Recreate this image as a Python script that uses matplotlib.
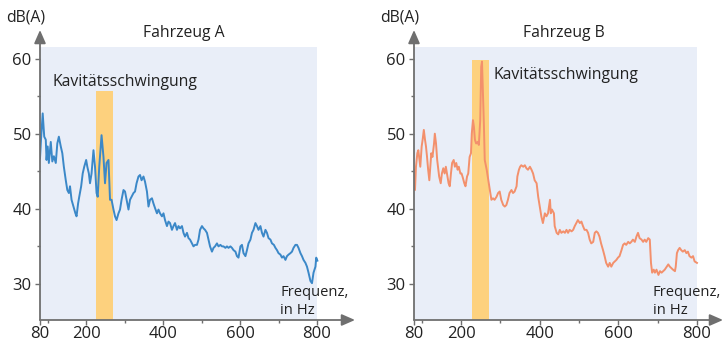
import matplotlib
matplotlib.use("Agg")
import matplotlib.pyplot as plt
from matplotlib.patches import Rectangle

plt.rcParams['font.family'] = ['Open Sans', 'DejaVu Sans']

# ---- data ----
freq_a = [80, 82.6, 87, 91, 95, 97, 100, 103, 108, 112, 116, 121, 125, 129, 134, 138, 142, 147, 151, 155,
          158, 162, 167, 172, 175, 179, 182, 187, 191, 195, 200, 203, 207, 210, 214, 219, 223, 227, 230, 234,
          240, 245, 249, 253, 258, 262, 266, 271, 275, 279, 284, 288, 292, 297, 301, 305, 310, 314, 318, 323,
          327, 331, 336, 340, 344, 349, 353, 358, 362, 366, 371, 375, 379, 384, 388, 392, 397, 401, 405, 410,
          414, 418, 423, 427, 431, 436, 440, 444, 449, 453, 457, 462, 466, 470, 475, 479, 483, 488, 492, 496,
          501, 505, 509, 514, 518, 522, 527, 531, 535, 540, 544, 549, 553, 557, 562, 566, 570, 575, 579, 583,
          588, 592, 596, 601, 605, 609, 614, 618, 622, 627, 631, 635, 640, 644, 648, 653, 657, 661, 666, 670,
          674, 679, 683, 688, 692, 696, 700, 705, 709, 713, 718, 722, 726, 731, 735, 739, 744, 748, 752, 757,
          761, 765, 770, 774, 778, 783, 787, 791, 796, 798, 801]
db_a = [46.7, 49.2, 52.7, 49.6, 49.2, 46.5, 48.3, 46.1, 48.9, 46.3, 47.0, 46.1, 48.7, 49.6, 48.3, 47.4, 45.6, 43.8, 42.5, 42.1,
        43.0, 41.2, 40.3, 39.4, 39.0, 40.7, 41.6, 43.0, 44.7, 45.6, 46.5, 45.6, 44.7, 43.4, 44.7, 47.8, 45.6, 42.1, 41.6, 45.6,
        49.8, 46.9, 43.4, 46.1, 46.5, 41.2, 41.2, 39.9, 39.0, 38.5, 39.4, 39.9, 41.2, 42.5, 42.3, 41.2, 39.9, 41.2, 41.6, 42.1,
        42.3, 43.4, 44.3, 44.5, 43.8, 44.3, 43.6, 42.3, 40.3, 41.2, 41.4, 40.7, 40.1, 39.4, 39.9, 39.4, 39.0, 39.4, 38.5, 37.7,
        38.3, 38.1, 37.2, 37.7, 38.1, 37.2, 37.7, 37.4, 37.7, 36.8, 36.3, 36.8, 36.1, 35.9, 35.4, 35.0, 35.2, 35.2, 35.9, 37.2,
        37.7, 37.4, 37.2, 36.8, 35.9, 35.0, 34.3, 34.8, 35.0, 35.4, 35.0, 35.2, 35.0, 35.0, 34.8, 35.0, 34.8, 35.0, 34.8, 34.5,
        34.3, 33.7, 33.5, 35.0, 35.2, 34.1, 33.7, 34.5, 35.4, 35.9, 36.8, 37.2, 38.1, 37.7, 37.2, 37.7, 36.8, 36.3, 37.2, 36.8,
        36.1, 35.9, 35.4, 35.2, 34.8, 34.5, 34.1, 33.9, 33.5, 33.7, 33.2, 33.7, 33.9, 34.1, 34.3, 34.8, 35.2, 35.2, 34.8, 34.1,
        33.7, 33.2, 32.8, 32.3, 31.5, 30.4, 30.1, 31.5, 32.3, 33.5, 33.1]

freq_b = [80, 82.5, 85, 88.5, 91, 94, 96, 99.5, 102, 105, 108, 110.5, 113, 116, 119, 121.5, 124, 127, 131, 133,
          136, 139, 142, 144, 148, 151, 154.5, 158, 161, 165, 168, 171, 174, 177, 181, 184, 187.5, 191, 194, 198,
          201, 204.5, 208, 211, 215, 218, 221.5, 225, 227, 230, 232.5, 235, 238, 242, 245, 248.5, 251, 253, 255, 258,
          260, 265, 269, 273, 277, 281, 285, 290, 294, 298, 302, 307, 311, 315, 319, 323, 328, 332, 336, 341,
          343, 347, 350, 353, 358, 362, 366, 370, 375, 379, 383, 387, 392, 396, 400, 404, 408, 413, 417, 421,
          426, 428, 431, 436, 438, 443, 447, 451, 455, 460, 464, 468, 472, 476, 481, 485, 489, 493, 497, 502,
          506, 510, 514, 519, 523, 527, 531, 536, 540, 544, 548, 552, 556, 561, 565, 569, 574, 578, 582, 587,
          591, 595, 599, 603, 608, 612, 616, 620, 625, 629, 633, 637, 642, 646, 650, 654, 659, 663, 667, 671,
          676, 680, 683, 686, 690, 693, 697, 702, 706, 710, 714, 718, 723, 727, 731, 735, 739, 744, 746, 749,
          752, 756, 760, 764, 769, 773, 777, 781, 786, 790, 794, 800]
db_b = [45.2, 42.5, 45.6, 47.4, 47.8, 46.5, 45.6, 48.3, 49.2, 50.5, 49.2, 48.3, 47.0, 45.2, 43.8, 45.6, 47.4, 46.9, 48.7, 50.0,
        48.7, 46.5, 45.2, 44.3, 43.4, 44.7, 45.4, 44.7, 45.6, 44.3, 43.4, 43.0, 44.7, 46.1, 46.5, 45.6, 46.1, 45.2, 45.6, 44.7,
        44.7, 44.1, 43.4, 43.0, 44.3, 44.7, 46.9, 47.4, 50.0, 51.8, 50.9, 49.2, 48.7, 48.9, 48.5, 51.8, 58.9, 59.6, 56.2, 50.9,
        46.5, 45.2, 43.8, 42.5, 41.2, 41.4, 41.2, 41.6, 42.1, 42.3, 41.2, 40.5, 40.3, 40.5, 41.2, 42.1, 42.5, 42.1, 42.3, 43.0,
        44.3, 45.2, 45.6, 45.8, 45.6, 45.8, 45.4, 45.2, 45.6, 45.2, 44.7, 43.8, 43.4, 41.6, 40.3, 39.0, 38.1, 39.4, 39.0, 39.4,
        41.2, 39.4, 39.9, 39.4, 37.7, 36.8, 36.6, 37.2, 36.8, 37.0, 36.8, 37.2, 36.8, 37.2, 37.0, 37.2, 37.7, 38.1, 38.5, 38.1,
        38.3, 37.7, 37.2, 37.2, 36.8, 35.9, 35.4, 35.6, 36.8, 37.0, 36.8, 36.3, 35.4, 34.5, 33.7, 32.8, 32.3, 32.8, 32.3, 32.8,
        33.0, 33.2, 33.5, 33.7, 34.5, 35.2, 35.4, 35.2, 35.6, 35.4, 35.6, 35.9, 35.6, 36.3, 36.8, 36.1, 35.9, 35.6, 35.9, 35.6,
        36.1, 35.9, 32.8, 31.5, 31.9, 31.5, 31.9, 31.2, 31.7, 31.5, 31.7, 31.9, 32.3, 32.6, 32.3, 32.1, 31.9, 31.7, 32.3, 34.1,
        34.5, 34.8, 34.5, 34.3, 34.5, 34.1, 34.3, 33.7, 33.5, 33.7, 33.0, 32.8]

band_a = (225, 270, 55.7)
band_b = (227, 271, 59.8)

titles = ["Fahrzeug A", "Fahrzeug B"]
x_ticks = [80, 200, 400, 600, 800]
x_minor = [100, 300, 500, 700]
y_ticks = [30, 40, 50, 60]
y_minor = [35, 45, 55]

# ---- style ----
W, H = 725, 341
fig = plt.figure(figsize=(W / 100, H / 100), dpi=100)
axis_col = '#6f6f6f'
txt_col = '#222222'
bg_col = '#e9eef8'
band_col = '#fdd17e'
YMIN, YMAX = 25.2, 63.8
FS = 11.3
FS_F = 10.6


def fx(px):
    return px / W


def fy(py):
    return 1 - py / H


def make_panel(left_px, right_px, xmax, freq, db, color, band, title, title_x,
               dbx, kav_xy, freq_x):
    ax = fig.add_axes([fx(left_px), fy(320), (right_px - left_px) / W, (320 - 30) / H])
    ax.set_xlim(80, xmax)
    ax.set_ylim(YMIN, YMAX)
    ax.patch.set_alpha(0)
    for s in ax.spines.values():
        s.set_visible(False)
    ax.add_patch(Rectangle((80, YMIN), 720, 61.5 - YMIN, facecolor=bg_col, edgecolor='none', zorder=0))
    ax.add_patch(Rectangle((band[0], YMIN), band[1] - band[0], band[2] - YMIN,
                           facecolor=band_col, edgecolor='none', zorder=1))
    ax.plot(freq, db, color=color, lw=1.4, zorder=3, solid_joinstyle='round')
    # axes arrows
    ax.annotate('', xy=(1, 0), xycoords='axes fraction', xytext=(0, 0),
                arrowprops=dict(arrowstyle='-|>,head_length=0.8,head_width=0.35', color=axis_col, lw=1.3,
                                shrinkA=0, shrinkB=0))
    ax.annotate('', xy=(0, 1), xycoords='axes fraction', xytext=(0, 0),
                arrowprops=dict(arrowstyle='-|>,head_length=0.8,head_width=0.35', color=axis_col, lw=1.3,
                                shrinkA=0, shrinkB=0))
    ax.set_xticks(x_ticks)
    ax.set_xticks(x_minor, minor=True)
    ax.set_yticks(y_ticks)
    ax.set_yticks(y_minor, minor=True)
    ax.tick_params(which='major', length=3.5, width=1, color=axis_col, labelsize=12,
                   labelcolor=txt_col)
    ax.tick_params(which='minor', length=2.5, width=1, color=axis_col)
    ax.tick_params(axis='x', which='major', pad=0.5)
    ax.tick_params(axis='y', which='major', pad=2.5)
    fig.text(fx(title_x), fy(33), title, ha='center', va='center', fontsize=FS, color=txt_col)
    fig.text(fx(dbx), fy(17), 'dB(A)', ha='center', va='center', fontsize=FS, color=txt_col)
    fig.text(fx(kav_xy[0]), fy(kav_xy[1]), 'Kavitätsschwingung', ha='left', va='center',
             fontsize=FS, color=txt_col)
    fig.text(fx(freq_x), fy(293), 'Frequenz,', ha='left', va='center', fontsize=FS_F, color=txt_col)
    fig.text(fx(freq_x), fy(310), 'in Hz', ha='left', va='center', fontsize=FS_F, color=txt_col)
    return ax


make_panel(40, 355, 80 + (355 - 40) / 0.3847, freq_a, db_a, '#3b88c8', band_a, titles[0], 183.5,
           26, (53, 82), 280)
make_panel(414, 723, 80 + (723 - 414) / 0.393, freq_b, db_b, '#f3906c', band_b, titles[1], 564,
           400, (493, 75), 653)

fig.savefig('out.png', dpi=100)
